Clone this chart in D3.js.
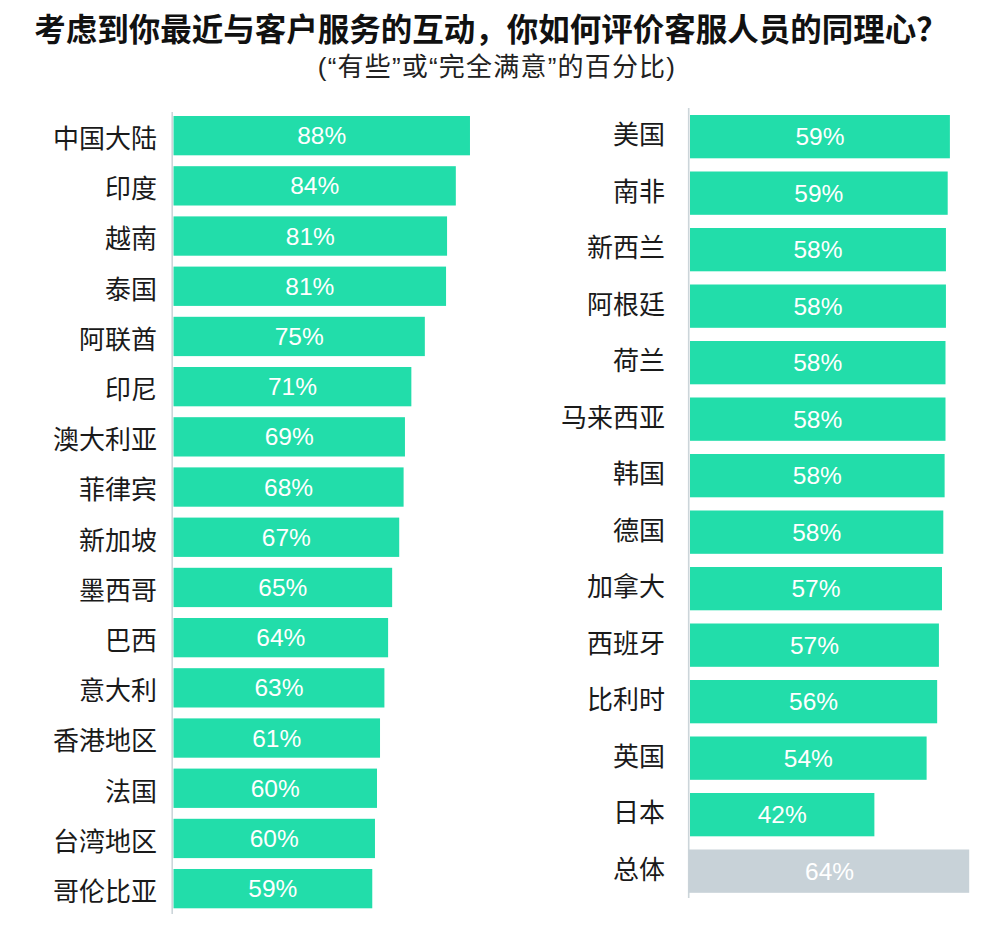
<!DOCTYPE html>
<html>
<head>
<meta charset="utf-8">
<script src="https://cdn.jsdelivr.net/npm/d3@7"></script>
<style>
  html, body { margin: 0; padding: 0; background: #fff; }
  svg { display: block; }
</style>
</head>
<body>
<svg id="chart" width="1000" height="940"></svg>
<script>
// ---- data ----
const titleText = "考虑到你最近与客户服务的互动，你如何评价客服人员的同理心？";
const subtitleText = "(“有些”或“完全满意”的百分比)";

const leftCategories = ["中国大陆", "印度", "越南", "泰国", "阿联酋", "印尼", "澳大利亚", "菲律宾",
  "新加坡", "墨西哥", "巴西", "意大利", "香港地区", "法国", "台湾地区", "哥伦比亚"];
const leftValues = [88.0, 83.8, 81.2, 80.9, 74.6, 70.6, 68.7, 68.3, 67.0, 64.9, 63.7, 62.6, 61.3, 60.4, 59.8, 59.0];

const rightCategories = ["美国", "南非", "新西兰", "阿根廷", "荷兰", "马来西亚", "韩国", "德国",
  "加拿大", "西班牙", "比利时", "英国", "日本", "总体"];
const rightValues = [59.2, 58.7, 58.3, 58.3, 58.2, 58.2, 58.0, 57.7, 57.4, 56.7, 56.3, 53.9, 42.0, 63.6];
const highlightCategory = "总体";

// ---- styles ----
const GREEN = "#22DDAA";
const GRAY = "#C8D2D8";
const AXIS = "#CCD5DA";
const CJK = "'Noto Sans CJK SC', 'Noto Sans', sans-serif";
const LATIN = "'Liberation Sans', Arial, 'Noto Sans CJK SC', sans-serif";

const svg = d3.select("#chart");

// title
svg.append("text")
  .attr("x", 491).attr("y", 41)
  .attr("text-anchor", "middle")
  .attr("font-family", CJK)
  .attr("font-weight", 700)
  .attr("font-size", 31.5)
  .attr("fill", "#111")
  .text(titleText);

svg.append("text")
  .attr("x", 497).attr("y", 76)
  .attr("text-anchor", "middle")
  .attr("font-family", LATIN)
  .attr("font-size", 26)
  .attr("letter-spacing", 1.2)
  .attr("fill", "#222")
  .text(subtitleText);

function panel(cfg) {
  const x = d3.scaleLinear().domain([0, 100]).range([cfg.x0, cfg.x0 + cfg.perHundred]);
  const y = d3.scaleBand().domain(cfg.categories).range([cfg.top, cfg.bottom])
    .paddingInner(cfg.pad).paddingOuter(0);
  const g = svg.append("g");
  const data = cfg.categories.map((c, i) => ({ c, v: cfg.values[i] }));

  // axis line (category axis)
  g.append("line")
    .attr("x1", x(0) - 1.3).attr("x2", x(0) - 1.3)
    .attr("y1", cfg.axisTop).attr("y2", cfg.axisBottom)
    .attr("stroke", AXIS).attr("stroke-width", 1.6);

  g.selectAll("rect.bar").data(data).join("rect")
    .attr("class", "bar")
    .attr("x", d => d.c === highlightCategory ? x(0) - 1.5 : x(0))
    .attr("y", d => y(d.c))
    .attr("width", d => x(d.v) - x(0) + (d.c === highlightCategory ? 1.5 : 0))
    .attr("height", y.bandwidth())
    .attr("fill", d => d.c === highlightCategory ? GRAY : GREEN);

  g.selectAll("text.val").data(data).join("text")
    .attr("class", "val")
    .attr("x", d => (x(0) + x(d.v)) / 2)
    .attr("y", d => y(d.c) + y.bandwidth() / 2)
    .attr("dy", "0.35em")
    .attr("text-anchor", "middle")
    .attr("font-family", LATIN)
    .attr("font-size", 24.5)
    .attr("fill", "#fff")
    .text(d => Math.round(d.v) + "%");

  g.selectAll("text.cat").data(data).join("text")
    .attr("class", "cat")
    .attr("x", cfg.labelX)
    .attr("y", d => y(d.c) + y.bandwidth() / 2 + cfg.labelDy)
    .attr("dy", "0.36em")
    .attr("text-anchor", "end")
    .attr("font-family", CJK)
    .attr("font-size", 26)
    .attr("fill", "#1a1a1a")
    .text(d => d.c);
}

panel({
  categories: leftCategories, values: leftValues,
  x0: 173.5, perHundred: 336.9,
  top: 116, bottom: 908.3, pad: 0.217,
  axisTop: 112, axisBottom: 914,
  labelX: 157, labelDy: 3
});

panel({
  categories: rightCategories, values: rightValues,
  x0: 690, perHundred: 439,
  top: 115, bottom: 892.8, pad: 0.2336,
  axisTop: 108, axisBottom: 898,
  labelX: 665, labelDy: -2
});
</script>
</body>
</html>
